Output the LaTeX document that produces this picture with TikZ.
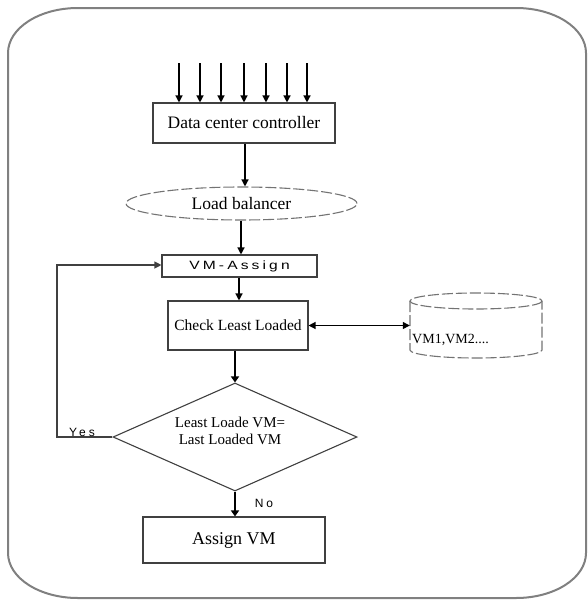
\documentclass[tikz,border=0pt]{standalone}
\usepackage{fontspec}
\setmainfont{Liberation Serif}
\newfontfamily\arialfont{Liberation Sans}
\usetikzlibrary{shapes.geometric,arrows.meta}
\begin{document}
\begin{tikzpicture}[x=1pt,y=-1pt,
  boxline/.style={draw=black!75,line width=1.1pt},
  stepbox/.style={boxline,rectangle,inner sep=0pt,font=\fontsize{16}{19}\selectfont},
  dashline/.style={draw=black!55,line width=1.1pt,dash pattern=on 11pt off 3pt},
  arr/.style={draw=black,line width=1.3pt,-{Triangle[length=7pt,width=7pt]}},
  thickarr/.style={draw=black,line width=2.4pt,-{Triangle[length=6pt,width=8pt]}},
  frameline/.style={draw=black!50,line width=2pt},
  lbl/.style={font=\arialfont\fontsize{12}{14}\selectfont\addfontfeature{LetterSpace=25},inner sep=0pt}]
\useasboundingbox (0,0) rectangle (587,600);
% outer frame
\draw[frameline] (78,8) -- (516,8) .. controls (554.7,8) and (586,28.1) .. (586,53)
  -- (586,553) .. controls (586,577.9) and (554.7,598) .. (516,598)
  -- (78,598) .. controls (39.3,598) and (8,577.9) .. (8,553)
  -- (8,53) .. controls (8,28.1) and (39.3,8) .. (78,8) -- cycle;
% nodes
\node[stepbox,minimum width=182pt,minimum height=40pt,font=\fontsize{17.5}{20}\selectfont] (dcc) at (244,123) {Data center controller};
\node[dashline,ellipse,minimum width=231pt,minimum height=33pt,inner sep=0pt,font=\fontsize{17.5}{19}\selectfont] (lb) at (241.5,203.5) {Load balancer};
\node[stepbox,minimum width=155pt,minimum height=22pt,font=\arialfont\fontsize{12}{14}\selectfont] (vma) at (239.5,266)
  {\scalebox{1.3}[1]{\addfontfeature{LetterSpace=20}VM-Assign}};
\node[stepbox,minimum width=140pt,minimum height=49pt,font=\fontsize{15.5}{18}\selectfont] (chk) at (238,325.5) {Check Least Loaded};
\node[diamond,boxline,minimum width=244pt,minimum height=108pt,inner sep=0pt] (dec) at (235,437) {};
\node[align=center,inner sep=0pt,font=\fontsize{15}{17}\selectfont] (dectxt) at (230,431) {Least Loade VM=\\Last Loaded VM};
\node[stepbox,minimum width=182pt,minimum height=46pt,font=\fontsize{18}{20}\selectfont] (asg) at (234,540) {Assign VM};
% database cylinder
\node[minimum width=132pt,minimum height=57pt,inner sep=0pt] (db) at (476,325.5) {};
\draw[dashline] (476,301) ellipse [x radius=66, y radius=8];
\draw[dashline] (410,301) -- (410,350) arc[start angle=180,end angle=0,x radius=66,y radius=8] -- (542,301);
\node[anchor=west,inner sep=0pt,font=\fontsize{14}{16}\selectfont] (dbtxt) at (412,340) {VM1,VM2....};
% input arrows
\foreach \n/\x in {1/179,2/200,3/221,4/244,5/266,6/287,7/307}{
  \coordinate (i\n) at (\x,63);
  \draw[arr] (i\n) -- (i\n |- dcc.north);
}
% connectors
\draw[arr] (dcc.south -| 245,0) -- (245,0 |- lb.north);
\draw[arr] (lb.south -| 241,0) -- (241,0 |- vma.north);
\draw[arr] (vma.south -| 239,0) -- (239,0 |- chk.north);
\draw[draw=black,line width=1.3pt,{Triangle[length=7pt,width=7pt]}-{Triangle[length=7pt,width=7pt]}] (chk.east) -- (db.west);
\draw[thickarr] (chk.south -| dec.north) -- (dec.north);
\draw[thickarr] (dec.south) -- (asg.north -| dec.south);
\coordinate (lc1) at (57,437);
\coordinate (lc2) at (57,265);
\draw[arr,line width=1.1pt,draw=black!75] (dec.west) -- (lc1) -- (lc2) -- (vma.west |- lc2);
\node[lbl,anchor=south] (yes) at (82,437) {Yes};
\node[lbl] (no) at (264,503) {No};
\end{tikzpicture}
\end{document}
